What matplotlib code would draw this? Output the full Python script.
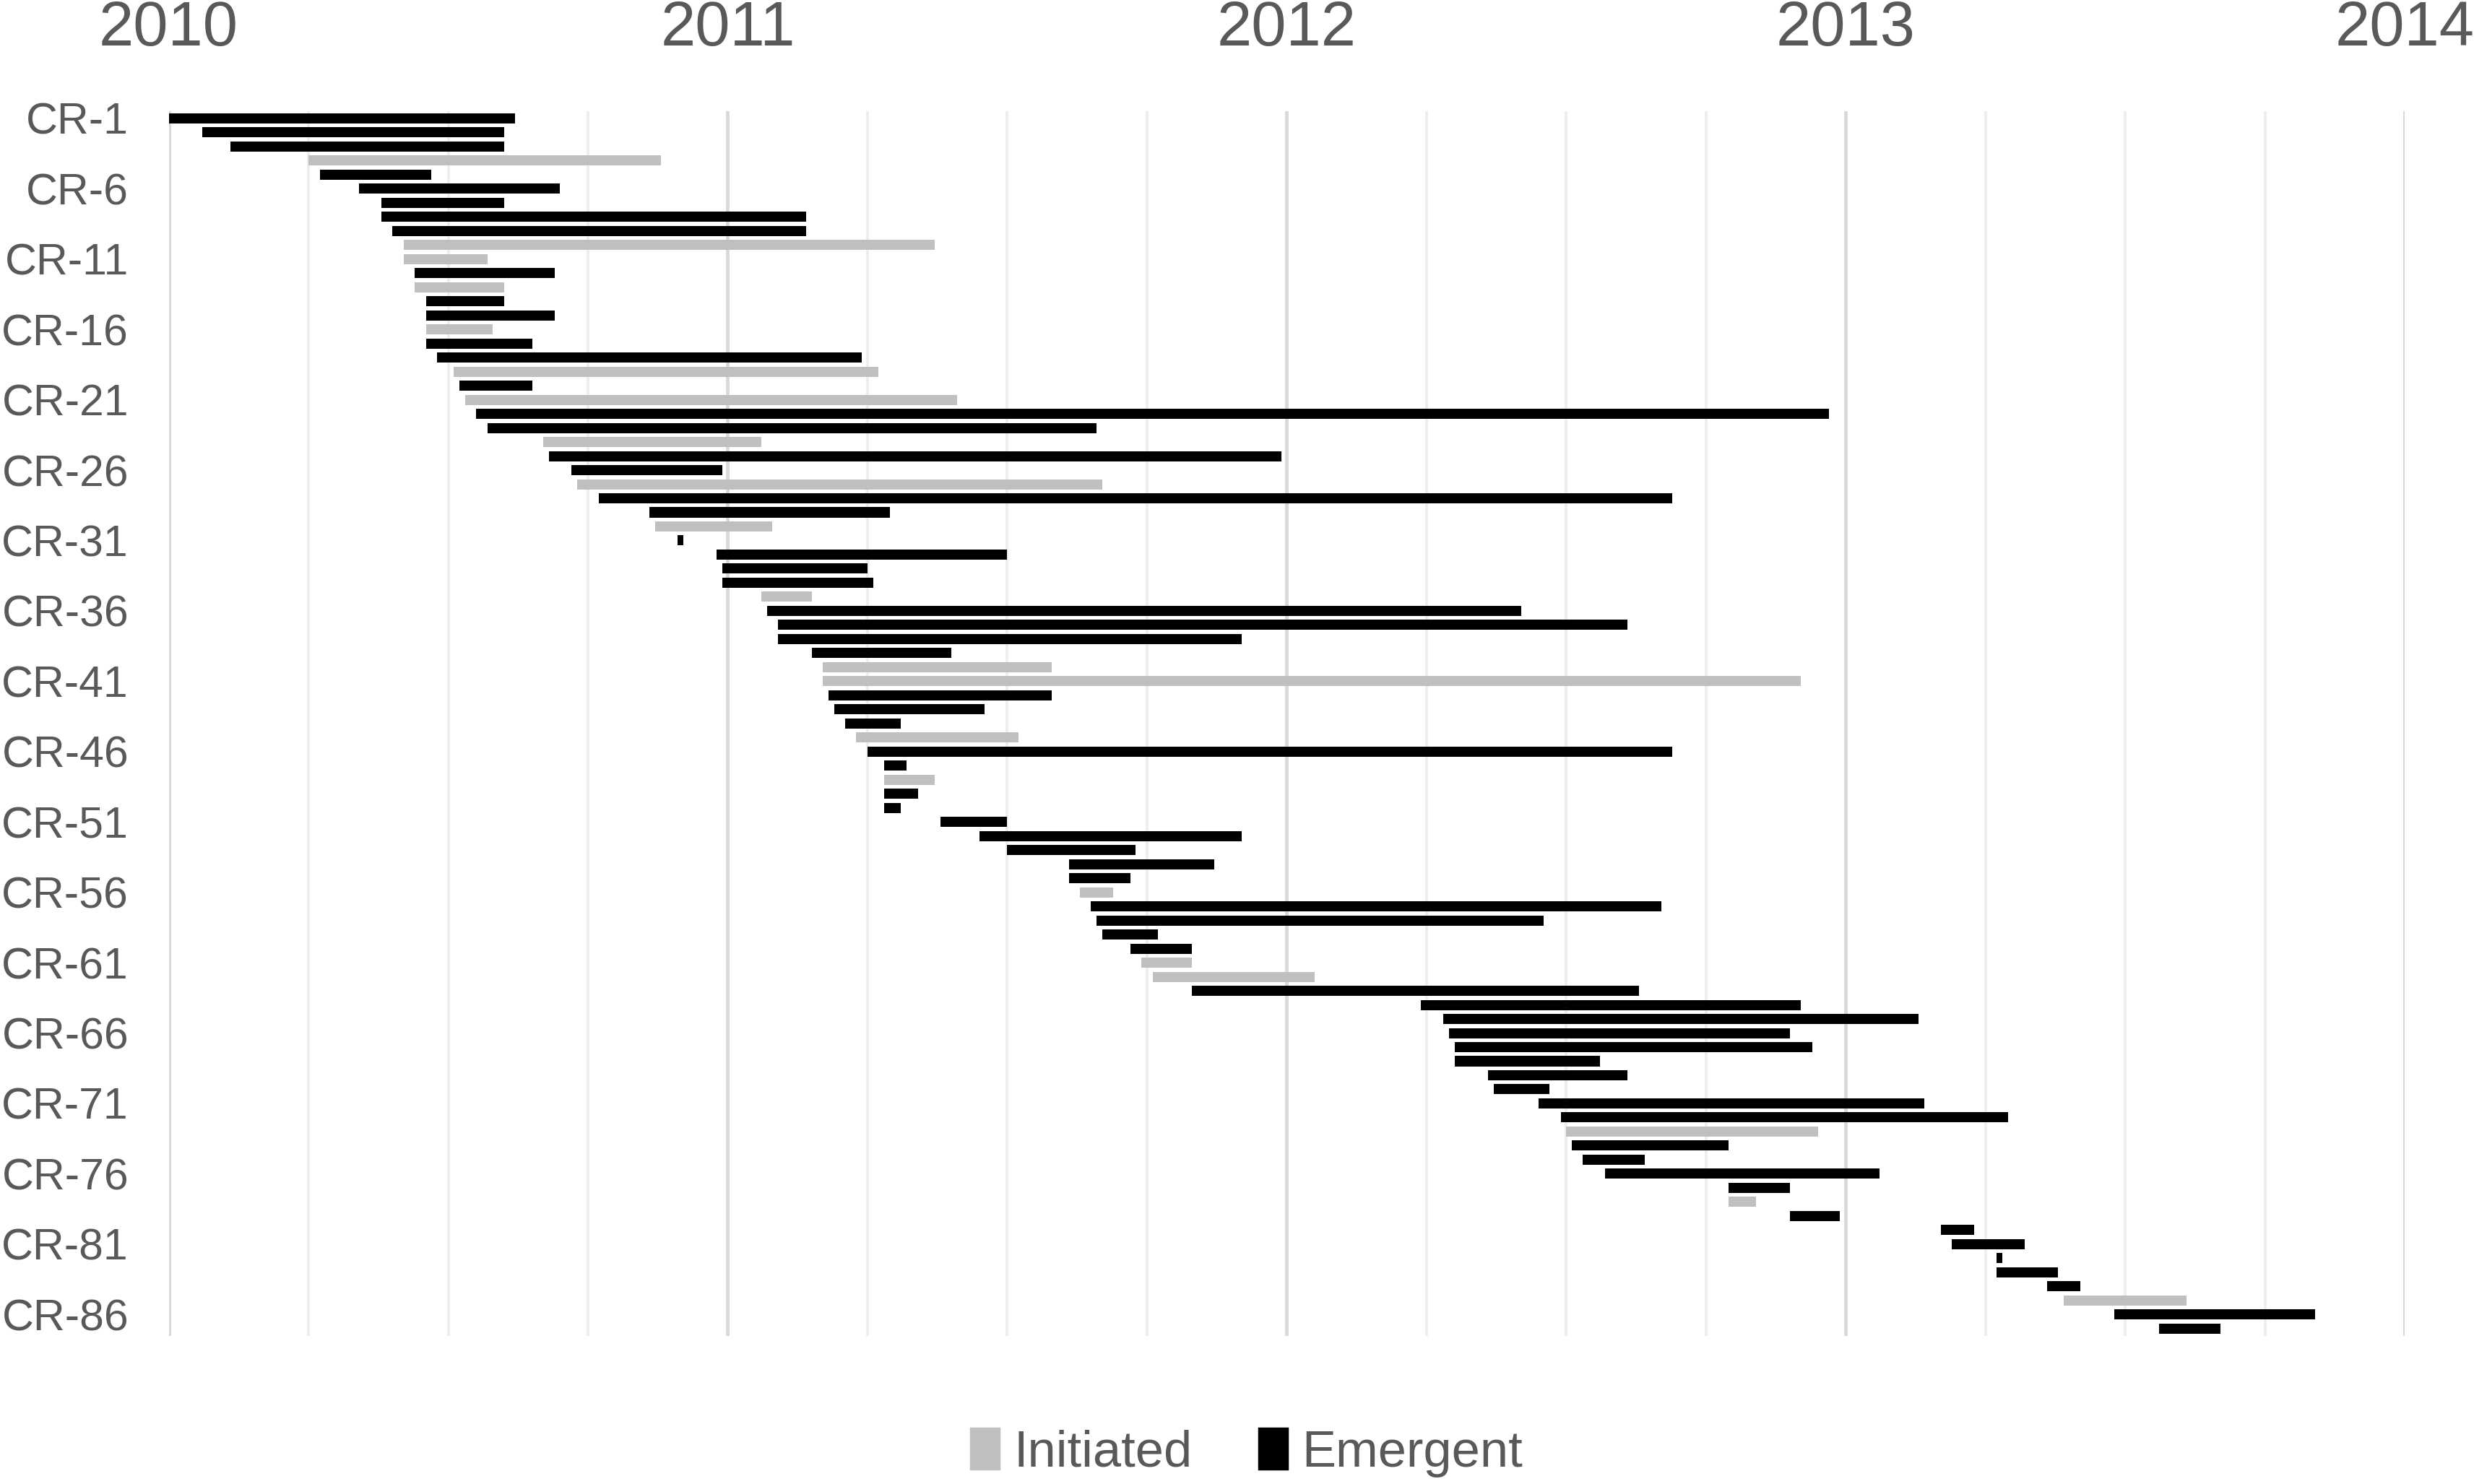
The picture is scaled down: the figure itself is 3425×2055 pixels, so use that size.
import matplotlib
matplotlib.use("Agg")
import matplotlib.pyplot as plt
from matplotlib.patches import Patch

plt.rcParams['font.family'] = ['Liberation Sans', 'DejaVu Sans']

# change requests, one row each (CR-1 .. CR-87), dates as decimal years
rows = list(range(1, 88))
kind = ['E', 'E', 'E', 'I', 'E', 'E', 'E', 'E', 'E', 'I',
        'I', 'E', 'I', 'E', 'E', 'I', 'E', 'E', 'I', 'E',
        'I', 'E', 'E', 'I', 'E', 'E', 'I', 'E', 'E', 'I',
        'E', 'E', 'E', 'E', 'I', 'E', 'E', 'E', 'E', 'I',
        'I', 'E', 'E', 'E', 'I', 'E', 'E', 'I', 'E', 'E',
        'E', 'E', 'E', 'E', 'E', 'I', 'E', 'E', 'E', 'E',
        'I', 'I', 'E', 'E', 'E', 'E', 'E', 'E', 'E', 'E',
        'E', 'E', 'I', 'E', 'E', 'E', 'E', 'I', 'E', 'E',
        'E', 'E', 'E', 'E', 'I', 'E', 'E']
start = [2010.00, 2010.06, 2010.11, 2010.25, 2010.27, 2010.34, 2010.38, 2010.38, 2010.40, 2010.42,
         2010.42, 2010.44, 2010.44, 2010.46, 2010.46, 2010.46, 2010.46, 2010.48, 2010.51, 2010.52,
         2010.53, 2010.55, 2010.57, 2010.67, 2010.68, 2010.72, 2010.73, 2010.77, 2010.86, 2010.87,
         2010.91, 2010.98, 2010.99, 2010.99, 2011.06, 2011.07, 2011.09, 2011.09, 2011.15, 2011.17,
         2011.17, 2011.18, 2011.19, 2011.21, 2011.23, 2011.25, 2011.28, 2011.28, 2011.28, 2011.28,
         2011.38, 2011.45, 2011.50, 2011.61, 2011.61, 2011.63, 2011.65, 2011.66, 2011.67, 2011.72,
         2011.74, 2011.76, 2011.83, 2012.24, 2012.28, 2012.29, 2012.30, 2012.30, 2012.36, 2012.37,
         2012.45, 2012.49, 2012.50, 2012.51, 2012.53, 2012.57, 2012.79, 2012.79, 2012.90, 2013.17,
         2013.19, 2013.27, 2013.27, 2013.36, 2013.39, 2013.48, 2013.56]
end = [2010.62, 2010.60, 2010.60, 2010.88, 2010.47, 2010.70, 2010.60, 2011.14, 2011.14, 2011.37,
       2010.57, 2010.69, 2010.60, 2010.60, 2010.69, 2010.58, 2010.65, 2011.24, 2011.27, 2010.65,
       2011.41, 2012.97, 2011.66, 2011.06, 2011.99, 2010.99, 2011.67, 2012.69, 2011.29, 2011.08,
       2010.92, 2011.50, 2011.25, 2011.26, 2011.15, 2012.42, 2012.61, 2011.92, 2011.40, 2011.58,
       2012.92, 2011.58, 2011.46, 2011.31, 2011.52, 2012.69, 2011.32, 2011.37, 2011.34, 2011.31,
       2011.50, 2011.92, 2011.73, 2011.87, 2011.72, 2011.69, 2012.67, 2012.46, 2011.77, 2011.83,
       2011.83, 2012.05, 2012.63, 2012.92, 2013.13, 2012.90, 2012.94, 2012.56, 2012.61, 2012.47,
       2013.14, 2013.29, 2012.95, 2012.79, 2012.64, 2013.06, 2012.90, 2012.84, 2012.99, 2013.23,
       2013.32, 2013.28, 2013.38, 2013.42, 2013.61, 2013.84, 2013.67]

years = [2010, 2011, 2012, 2013, 2014]
label_rows = list(range(1, 88, 5))

colour = {'I': '#bfbfbf', 'E': '#000000'}
txt = '#595959'

fig = plt.figure(figsize=(13.7, 8.22), dpi=250)
ax = fig.add_axes([0.0682, 0.100, 0.9038, 0.825])

# quarter gridlines light, year gridlines a bit darker
for y in years[:-1]:
    for q in (0.25, 0.5, 0.75):
        ax.axvline(y + q, color='#eeeeee', lw=1.1, zorder=0)
for y in years:
    ax.axvline(y, color='#d9d9d9', lw=1.4, zorder=0)

widths = [e - s for s, e in zip(start, end)]
ax.barh(rows, widths, left=start, height=0.72,
        color=[colour[k] for k in kind], zorder=2)

ax.set_xlim(2010, 2014)
ax.set_ylim(87.5, 0.5)
ax.xaxis.tick_top()
ax.set_xticks(years)
ax.set_xticklabels([str(y) for y in years], fontsize=25, color=txt)
ax.set_yticks(label_rows)
ax.set_yticklabels(['CR-%d' % r for r in label_rows], fontsize=17.5, color=txt)
ax.tick_params(axis='x', length=0, pad=21)
ax.tick_params(axis='y', length=0, pad=16)
for s in ax.spines.values():
    s.set_visible(False)

handles = [Patch(color=colour['I'], label='Initiated'),
           Patch(color=colour['E'], label='Emergent')]
fig.legend(handles=handles, loc='center', bbox_to_anchor=(0.504, 0.021),
           ncol=2, frameon=False, fontsize=20.3, labelcolor=txt,
           handlelength=0.55, handleheight=0.85, handletextpad=0.3, columnspacing=1.3)

fig.savefig('out.png', dpi=250)
